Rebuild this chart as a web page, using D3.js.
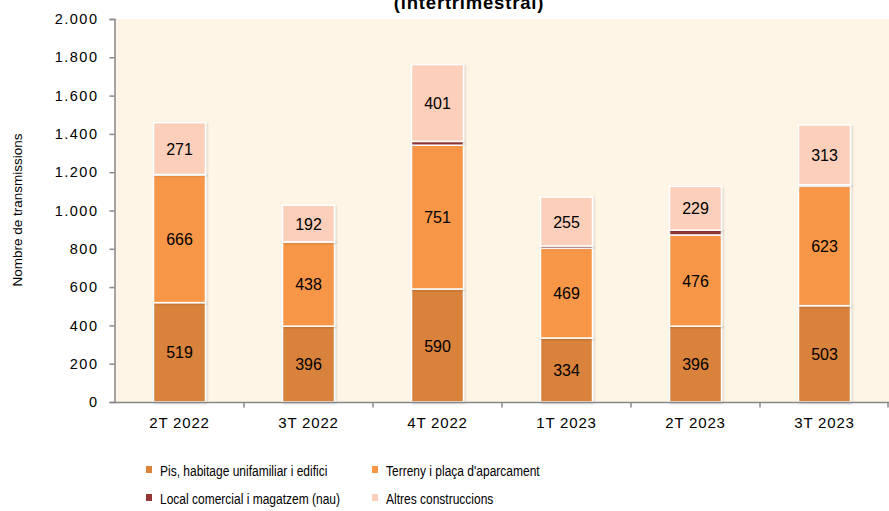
<!DOCTYPE html>
<meta charset="utf-8">
<script src="https://d3js.org/d3.v7.min.js"></script>
<style>
  body { margin: 0; background: #fff; }
  text { font-family: "Liberation Sans", Arial, sans-serif; }
</style>
<div id="chart"></div>
<script>
// data
var quarters = ["2T 2022", "3T 2022", "4T 2022", "1T 2023", "2T 2023", "3T 2023"];
var pis = [519, 396, 590, 334, 396, 503];
var terreny = [666, 438, 751, 469, 476, 623];
var local = [3, 2, 20, 12, 25, 8];
var altres = [271, 192, 401, 255, 229, 313];
var seriesNames = ["Pis, habitage unifamiliar i edifici", "Terreny i plaça d'aparcament",
                   "Local comercial i magatzem (nau)", "Altres construccions"];
var colors = ["#D9823B", "#F79646", "#953735", "#FBCFB9"];
var yTicks = [0, 200, 400, 600, 800, 1000, 1200, 1400, 1600, 1800, 2000];

var width = 889, height = 511;
var plotLeft = 115, plotRight = 889, plotTop = 19, plotBottom = 402;

var svg = d3.select("#chart").append("svg")
    .attr("width", width)
    .attr("height", height);

// title (cut off at the top)
svg.append("text")
    .attr("x", 469).attr("y", 9)
    .attr("text-anchor", "middle")
    .attr("font-size", "18.5px")
    .attr("font-weight", "bold")
    .attr("letter-spacing", "0.8px")
    .text("(intertrimestral)");

// plot background
svg.append("rect")
    .attr("x", plotLeft).attr("y", plotTop)
    .attr("width", plotRight - plotLeft).attr("height", plotBottom - plotTop)
    .attr("fill", "#FEF5E7");

var x = d3.scaleBand().domain(quarters).range([plotLeft, plotRight]).padding(0);
var y = d3.scaleLinear().domain([0, 2000]).range([plotBottom, plotTop]);

var table = quarters.map(function(q, i) {
    return { q: q, pis: pis[i], terreny: terreny[i], local: local[i], altres: altres[i] };
});
var keys = ["pis", "terreny", "local", "altres"];
var stack = d3.stack().keys(keys)(table);

var barW = 52;

// shadow filter
var defs = svg.append("defs");
var f = defs.append("filter").attr("id", "sh").attr("x", "-20%").attr("y", "-20%")
    .attr("width", "140%").attr("height", "140%");
f.append("feDropShadow").attr("dx", 1).attr("dy", 1).attr("stdDeviation", 1.2)
    .attr("flood-color", "#000").attr("flood-opacity", 0.18);

var layers = svg.selectAll("g.layer")
    .data(stack)
    .enter().append("g")
    .attr("class", "layer")
    .attr("fill", function(d, i) { return colors[i]; });

layers.selectAll("rect")
    .data(function(d) { return d; })
    .enter().append("rect")
    .attr("x", function(d) { return x(d.data.q) + x.bandwidth() / 2 - barW / 2; })
    .attr("y", function(d) { return y(d[1]); })
    .attr("width", barW)
    .attr("height", function(d) { return Math.max(0, y(d[0]) - y(d[1])); })
    .attr("stroke", "#fff")
    .attr("stroke-width", 1.5)
    .attr("filter", "url(#sh)");

// value labels (not on the small "local" series)
stack.forEach(function(layer, li) {
    if (keys[li] === "local") return;
    svg.selectAll(null)
        .data(layer)
        .enter().append("text")
        .attr("x", function(d) { return x(d.data.q) + x.bandwidth() / 2; })
        .attr("y", function(d) { return (y(d[0]) + y(d[1])) / 2 + 6; })
        .attr("text-anchor", "middle")
        .attr("font-size", "16px")
        .attr("fill", "#000")
        .text(function(d) { return d[1] - d[0]; });
});

// y axis
var yAxis = d3.axisLeft(y).tickValues(yTicks).tickSize(5).tickPadding(11)
    .tickFormat(function(d) { return d3.format(",.0f")(d).replace(/,/g, "."); });
var gy = svg.append("g")
    .attr("transform", "translate(" + (plotLeft - 0.5) + ",0)")
    .call(yAxis);
gy.select(".domain").attr("stroke", "#888").attr("stroke-width", 1.5);
gy.selectAll(".tick line").attr("stroke", "#888").attr("stroke-width", 1.5);
gy.selectAll(".tick text").attr("font-size", "14.5px").attr("fill", "#000")
    .attr("letter-spacing", "1.5px")
    .attr("font-family", "Liberation Sans, Arial, sans-serif");

// x axis
var gx = svg.append("g")
    .attr("transform", "translate(0," + (plotBottom + 0.5) + ")");
gx.append("line")
    .attr("x1", plotLeft - 0.5).attr("x2", plotRight)
    .attr("stroke", "#888").attr("stroke-width", 1.5);
gx.selectAll("line.tk")
    .data(quarters.slice(1).concat(["end"]))
    .enter().append("line")
    .attr("class", "tk")
    .attr("x1", function(d) { return d === "end" ? plotRight - 1 : x(d); })
    .attr("x2", function(d) { return d === "end" ? plotRight - 1 : x(d); })
    .attr("y1", 0).attr("y2", 5)
    .attr("stroke", "#888").attr("stroke-width", 1.5);
gx.selectAll("text")
    .data(quarters)
    .enter().append("text")
    .attr("x", function(d) { return x(d) + x.bandwidth() / 2; })
    .attr("y", 25)
    .attr("text-anchor", "middle")
    .attr("font-size", "15px")
    .attr("letter-spacing", "0.8px")
    .attr("fill", "#000")
    .text(function(d) { return d; });

// y axis title
svg.append("text")
    .attr("transform", "translate(22,210) rotate(-90)")
    .attr("text-anchor", "middle")
    .attr("font-size", "13.5px")
    .attr("fill", "#000")
    .text("Nombre de transmissions");

// legend
var legPos = [[146, 470], [372, 470], [146, 498], [372, 498]];
var leg = svg.selectAll("g.leg")
    .data(seriesNames)
    .enter().append("g")
    .attr("class", "leg")
    .attr("transform", function(d, i) { return "translate(" + legPos[i][0] + "," + legPos[i][1] + ")"; });
leg.append("rect")
    .attr("x", 0).attr("y", -4).attr("width", 6).attr("height", 7)
    .attr("fill", function(d, i) { return colors[i]; });
leg.append("text")
    .attr("transform", "translate(14,5.5) scale(0.8,1)")
    .attr("font-size", "15px")
    .attr("fill", "#000")
    .text(function(d) { return d; });
</script>
